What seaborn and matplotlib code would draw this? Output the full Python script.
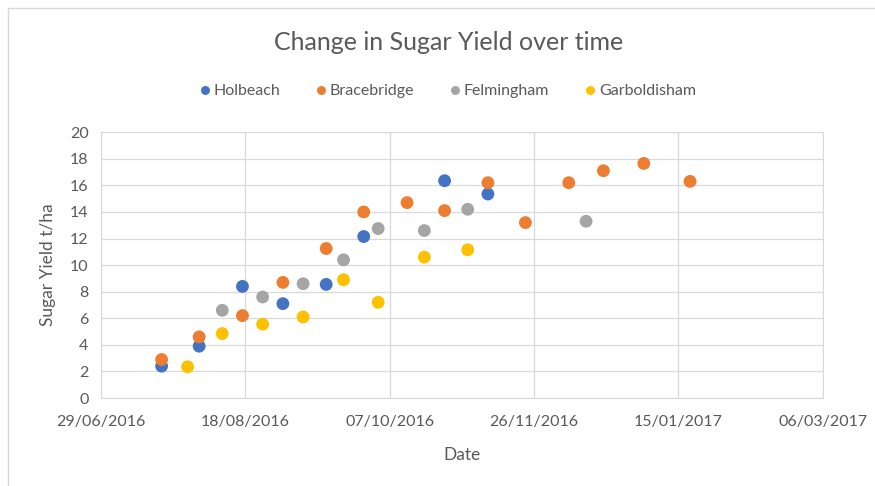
import pandas as pd
import matplotlib.pyplot as plt
import matplotlib.dates as mdates
import seaborn as sns

# values
holbeach_dates = ['2016-07-20', '2016-08-02', '2016-08-17', '2016-08-31', '2016-09-15',
                  '2016-09-28', '2016-10-26', '2016-11-10']
holbeach_yield = [2.4, 3.9, 8.4, 7.1, 8.55, 12.15, 16.35, 15.35]

bracebridge_dates = ['2016-07-20', '2016-08-02', '2016-08-17', '2016-08-31', '2016-09-15',
                     '2016-09-28', '2016-10-13', '2016-10-26', '2016-11-10', '2016-11-23',
                     '2016-12-08', '2016-12-20', '2017-01-03', '2017-01-19']
bracebridge_yield = [2.9, 4.6, 6.2, 8.7, 11.25, 14.0, 14.7, 14.1, 16.2, 13.2,
                     16.2, 17.1, 17.65, 16.3]

felmingham_dates = ['2016-08-10', '2016-08-24', '2016-09-07', '2016-09-21', '2016-10-03',
                    '2016-10-19', '2016-11-03', '2016-12-14']
felmingham_yield = [6.6, 7.6, 8.6, 10.4, 12.75, 12.6, 14.2, 13.3]

garboldisham_dates = ['2016-07-29', '2016-08-10', '2016-08-24', '2016-09-07', '2016-09-21',
                      '2016-10-03', '2016-10-19', '2016-11-03']
garboldisham_yield = [2.35, 4.85, 5.55, 6.1, 8.9, 7.2, 10.6, 11.15]

sites = ['Holbeach', 'Bracebridge', 'Felmingham', 'Garboldisham']
colors = ['#4472C4', '#ED7D31', '#A5A5A5', '#FFC000']

frames = []
for name, d, v in zip(sites,
                      [holbeach_dates, bracebridge_dates, felmingham_dates, garboldisham_dates],
                      [holbeach_yield, bracebridge_yield, felmingham_yield, garboldisham_yield]):
    frames.append(pd.DataFrame({'Date': pd.to_datetime(d), 'Yield': v, 'Site': name}))
df = pd.concat(frames, ignore_index=True)

sns.set_style('white')
plt.rcParams['font.family'] = ['Lato', 'DejaVu Sans']
txt = '#595959'

fig = plt.figure(figsize=(8.75, 4.86), dpi=100)
ax = fig.add_axes([0.1154, 0.181, 0.825, 0.547])

sns.scatterplot(data=df, x='Date', y='Yield', hue='Site', hue_order=sites,
                palette=colors, s=85, linewidth=0, ax=ax, zorder=3)

ticks = pd.date_range('2016-06-29', periods=6, freq='50D')
ax.set_xlim(ticks[0], ticks[-1])
ax.set_xticks(ticks)
ax.xaxis.set_major_formatter(mdates.DateFormatter('%d/%m/%Y'))
ax.set_ylim(0, 20)
ax.set_yticks(range(0, 21, 2))

ax.grid(True, color='#D9D9D9', linewidth=0.9)
for s in ax.spines.values():
    s.set_color('#D9D9D9')
ax.tick_params(colors=txt, labelsize=11.5, length=0)
ax.tick_params(axis='x', pad=12)
ax.tick_params(axis='y', pad=9)

ax.set_xlabel('Date', color=txt, fontsize=12.5, labelpad=13)
ax.set_ylabel('Sugar Yield t/ha', color=txt, fontsize=12.5, labelpad=10)

fig.text(0.513, 0.913, 'Change in Sugar Yield over time', ha='center', va='center',
         color=txt, fontsize=18)

ax.legend(loc='center', bbox_to_anchor=(0.479, 1.154), ncol=4, frameon=False,
          fontsize=11.5, labelcolor=txt, handletextpad=0.1, handlelength=0.9,
          columnspacing=2.1, markerscale=0.7, title=None)

# outer chart border
fig.patches.append(plt.Rectangle((0.009, -0.02), 1.1, 1.003, transform=fig.transFigure,
                                 fill=False, edgecolor='#D9D9D9', linewidth=1))

fig.savefig('out.png', dpi=100)
